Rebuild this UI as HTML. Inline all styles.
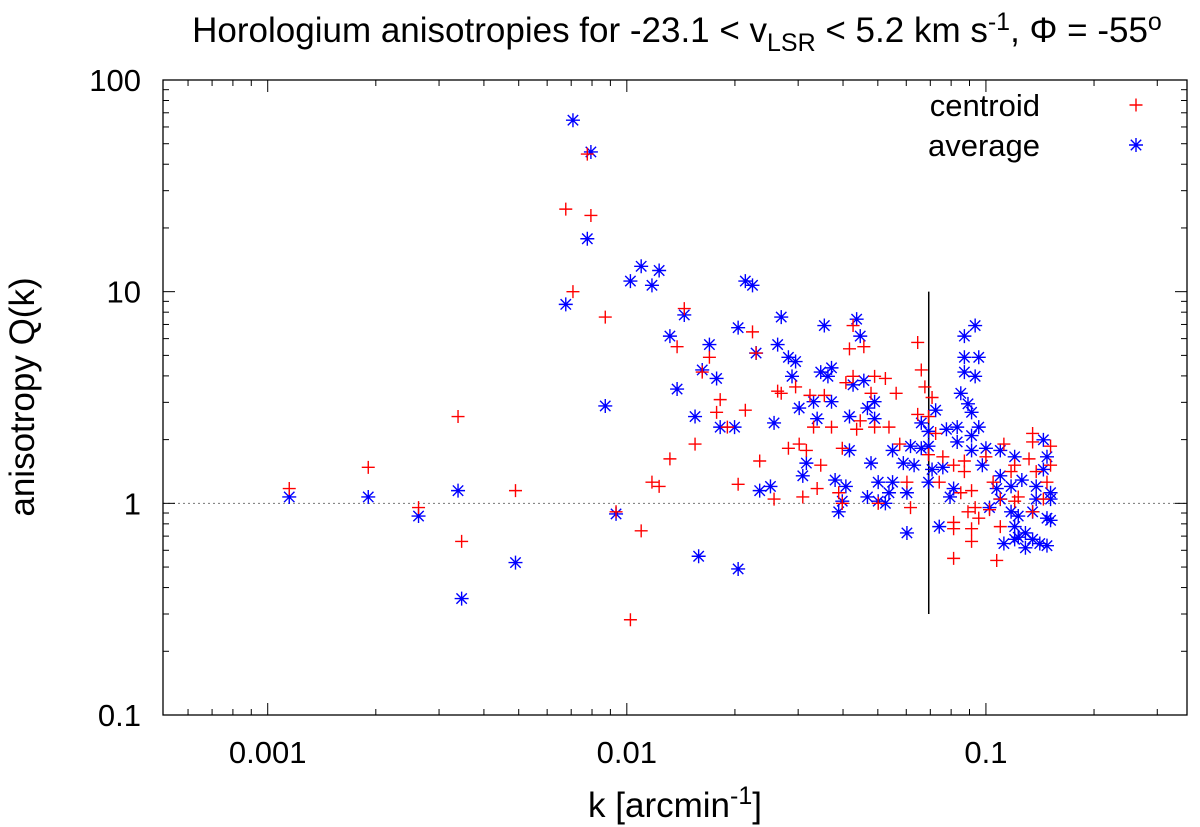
<!DOCTYPE html>
<html><head><meta charset="utf-8">
<style>
html,body{margin:0;padding:0;background:#fff;}
svg{display:block;font-family:"Liberation Sans",sans-serif;}
</style></head>
<body>
<svg id="chart" width="1200" height="827" viewBox="0 0 1200 827" xmlns="http://www.w3.org/2000/svg">
<text x="677" y="42" font-size="35" text-anchor="middle">Horologium anisotropies for -23.1 &lt; v<tspan font-size="25" dy="9">LSR</tspan><tspan dy="-9"> &lt; 5.2 km s</tspan><tspan font-size="25" dy="-12">-1</tspan><tspan dy="12">, Φ = -55</tspan><tspan font-size="25" dy="-12">o</tspan></text>
<text transform="translate(34,397) rotate(-90)" font-size="35" text-anchor="middle">anisotropy Q(k)</text>
<text x="675" y="817" font-size="35" text-anchor="middle">k [arcmin<tspan font-size="25" dy="-13">-1</tspan><tspan dy="13">]</tspan></text>
<g id="axes"></g>
<g id="marks"></g>
<g id="legend">
<text x="1040" y="116" font-size="31" text-anchor="end">centroid</text>
<text x="1040" y="156" font-size="31" text-anchor="end">average</text>
</g>
</svg>
<script>
const xTickVals=[0.001,0.01,0.1];
const xTickLabels=["0.001","0.01","0.1"];
const yTickVals=[0.1,1,10,100];
const yTickLabels=["0.1","1","10","100"];
const xDomain=[0.000511,0.363];
const yDomain=[0.1,100];
const cutK=0.0693;
const cutQ=[0.3,10];
// centroid: log10(k), log10(Q)
const centroidLogK=[-2.94,-2.72,-2.58,-2.47,-2.46,-2.31,-2.17,-2.11,-2.15,-2.10,-2.06,-2.03,-1.99,-1.96,-1.84,-1.86,-1.77,-1.79,-1.65,-1.64,-1.74,-1.75,-1.67,-1.81,-1.88,-1.93,-1.91,-1.69,-1.63,-1.59,-1.58,-1.57,-1.53,-1.49,-1.45,-1.48,-1.43,-1.55,-1.52,-1.50,-1.46,-1.47,-1.51,-1.41,-1.40,-1.37,-1.38,-1.34,-1.39,-1.37,-1.31,-1.32,-1.35,-1.36,-1.31,-1.72,-1.27,-1.28,-1.25,-1.19,-1.18,-1.17,-1.15,-1.19,-1.16,-1.14,-1.24,-1.22,-1.21,-1.30,-1.40,-1.16,-1.12,-1.09,-1.06,-1.06,-1.13,-1.05,-1.03,-1.02,-1.04,-1.04,-1.09,-1.09,-1.09,-0.97,-0.95,-1.00,-0.92,-0.87,-0.87,-0.88,-0.82,-0.82,-0.83,-0.91,-0.92,-0.96,-0.99,-0.86,-1.04,-0.98,-1.07,-0.93,-0.84,-0.87,-0.96];
const centroidLogQ=[0.07,0.17,-0.02,0.41,-0.18,0.06,1.39,1.65,1.00,1.36,0.88,-0.04,-0.55,-0.13,0.92,0.74,0.69,0.62,0.81,0.71,0.49,0.43,0.44,0.28,0.21,0.10,0.08,0.09,0.20,0.02,0.53,0.52,0.55,0.51,0.51,0.36,0.36,0.26,0.28,0.25,0.18,0.07,0.03,0.05,0.26,0.84,0.73,0.74,0.57,0.60,0.60,0.52,0.39,0.35,0.36,0.36,0.36,0.59,0.52,0.76,0.63,0.55,0.50,0.42,0.41,0.33,0.28,0.10,-0.02,0.00,0.00,0.23,0.22,0.18,0.20,0.15,0.10,-0.04,-0.02,-0.07,-0.12,-0.18,-0.09,-0.12,-0.26,-0.27,0.28,0.22,0.18,0.33,0.29,0.21,0.27,0.18,0.10,0.03,0.01,0.02,-0.03,0.15,0.06,0.10,0.05,0.15,0.02,-0.04,-0.11];
// average: log10(k), log10(Q)
const averageLogK=[-2.94,-2.72,-2.58,-2.47,-2.46,-2.31,-2.17,-2.11,-2.15,-2.10,-2.06,-2.03,-1.96,-1.91,-1.99,-1.93,-1.67,-1.65,-1.84,-1.57,-1.45,-1.36,-1.35,-1.69,-1.88,-1.77,-1.58,-1.55,-1.53,-1.64,-1.79,-1.75,-1.54,-1.46,-1.43,-1.44,-1.86,-1.52,-1.48,-1.43,-1.47,-1.38,-1.34,-1.37,-1.33,-1.31,-1.31,-1.81,-1.74,-1.70,-1.59,-1.38,-1.50,-1.51,-1.32,-1.42,-1.39,-1.63,-1.60,-1.40,-1.41,-1.33,-1.80,-1.69,-1.30,-1.26,-1.27,-1.30,-1.28,-1.22,-1.22,-1.26,-1.23,-1.20,-1.18,-1.18,-1.16,-1.16,-1.21,-1.15,-1.16,-1.14,-1.03,-1.06,-1.06,-1.02,-1.06,-1.03,-1.07,-1.05,-1.04,-1.11,-1.08,-1.02,-1.04,-1.08,-1.04,-1.00,-0.96,-0.92,-0.83,-1.01,-1.12,-1.09,-1.10,-1.13,-0.96,-0.93,-0.97,-0.90,-0.84,-0.82,-0.82,-0.86,-0.99,-0.93,-0.91,-0.87,-0.83,-0.82,-0.92,-0.89,-0.91,-0.87,-0.85,-0.83,-0.95,-0.89,-0.92,-0.96,-0.86,-0.84];
const averageLogQ=[0.03,0.03,-0.06,0.06,-0.45,-0.28,0.94,1.25,1.81,1.66,0.46,-0.05,1.12,1.10,1.05,1.03,1.05,1.03,0.89,0.88,0.84,0.87,0.79,0.83,0.79,0.75,0.75,0.69,0.67,0.71,0.63,0.59,0.60,0.62,0.64,0.60,0.54,0.45,0.48,0.48,0.40,0.41,0.58,0.56,0.45,0.48,0.40,0.41,0.36,0.36,0.38,0.25,0.19,0.13,0.19,0.11,0.08,0.06,0.08,0.01,-0.04,0.03,-0.25,-0.31,0.10,0.10,0.05,0.01,0.00,0.05,-0.14,0.25,0.19,0.18,0.26,0.38,0.34,0.27,0.27,0.16,0.10,0.44,0.84,0.79,0.69,0.69,0.62,0.60,0.52,0.47,0.43,0.35,0.36,0.36,0.32,0.29,0.25,0.26,0.25,0.22,0.22,0.18,0.17,0.07,0.03,-0.11,0.13,0.08,0.07,0.11,0.16,0.05,0.02,0.08,-0.02,-0.04,-0.06,-0.04,-0.07,-0.08,-0.11,-0.14,-0.16,-0.17,-0.19,-0.20,-0.19,-0.21,-0.17,0.02,0.02,0.30];

const L=163,R=1187,T=80,B=715;
const NS="http://www.w3.org/2000/svg";
function xs(v){return L+(Math.log10(v)-Math.log10(xDomain[0]))/(Math.log10(xDomain[1])-Math.log10(xDomain[0]))*(R-L);}
function ys(v){return B-(Math.log10(v)-Math.log10(yDomain[0]))/(Math.log10(yDomain[1])-Math.log10(yDomain[0]))*(B-T);}
function mk(tag,attrs,parent){const e=document.createElementNS(NS,tag);for(const k in attrs)e.setAttribute(k,attrs[k]);parent.appendChild(e);return e;}
const axes=document.getElementById('axes');
const marks=document.getElementById('marks');
const ref=mk('line',{x1:L,x2:R,y1:ys(1),y2:ys(1),stroke:'#777','stroke-width':1,'stroke-dasharray':'2,3'},axes);


for(let d=-4;d<=0;d++){for(let m=1;m<10;m++){const v=m*Math.pow(10,d);if(v<xDomain[0]||v>xDomain[1])continue;const x=xs(v);const len=m===1?12:6;
 const t1=mk('line',{x1:x,x2:x,y1:B,y2:B-len,stroke:'#000','stroke-width':1},axes);
 
 
 const t2=mk('line',{x1:x,x2:x,y1:T,y2:T+len,stroke:'#000','stroke-width':1},axes);
 
 }}
for(let d=-1;d<=2;d++){for(let m=1;m<10;m++){const v=m*Math.pow(10,d);if(v<yDomain[0]-1e-9||v>yDomain[1]+1e-9)continue;const y=ys(v);const len=m===1?12:6;
 const t1=mk('line',{x1:L,x2:L+len,y1:y,y2:y,stroke:'#000','stroke-width':1},axes);
 
 
 const t2=mk('line',{x1:R,x2:R-len,y1:y,y2:y,stroke:'#000','stroke-width':1},axes);
 
 }}
xTickVals.forEach((v,i)=>{const t=mk('text',{x:xs(v),y:763,'font-size':31,'text-anchor':'middle'},axes);t.textContent=xTickLabels[i];
 
 });
yTickVals.forEach((v,i)=>{const t=mk('text',{x:141,y:ys(v)+11,'font-size':31,'text-anchor':'end'},axes);t.textContent=yTickLabels[i];
 
 });
const frame=mk('rect',{x:L,y:T,width:R-L,height:B-T,fill:'none',stroke:'#000','stroke-width':1.3},axes);


const cut=mk('line',{x1:xs(cutK),x2:xs(cutK),y1:ys(cutQ[0]),y2:ys(cutQ[1]),stroke:'#000','stroke-width':1.5},axes);


function plus(x,y,c,g){const s=6.5;mk('path',{d:`M${x-s},${y}H${x+s}M${x},${y-s}V${y+s}`,stroke:c,'stroke-width':1.4,fill:'none'},g);}
function star(x,y,c,g){const s=7,d=5.2;mk('path',{d:`M${x-s},${y}H${x+s}M${x},${y-s}V${y+s}M${x-d},${y-d}L${x+d},${y+d}M${x-d},${y+d}L${x+d},${y-d}`,stroke:c,'stroke-width':1.4,fill:'none'},g);}
averageLogK.forEach((lk,i)=>{const g=mk('g',{},marks);
 
 
 star(xs(Math.pow(10,lk)),ys(Math.pow(10,averageLogQ[i])),'#0000ff',g);});
centroidLogK.forEach((lk,i)=>{const g=mk('g',{},marks);
 
 
 plus(xs(Math.pow(10,lk)),ys(Math.pow(10,centroidLogQ[i])),'#ff0000',g);});
const leg=document.getElementById('legend');
const lg1=mk('g',{},leg);


plus(1136,105,'#ff0000',lg1);
const lg2=mk('g',{},leg);


star(1136,145,'#0000ff',lg2);
</script>
</body></html>
